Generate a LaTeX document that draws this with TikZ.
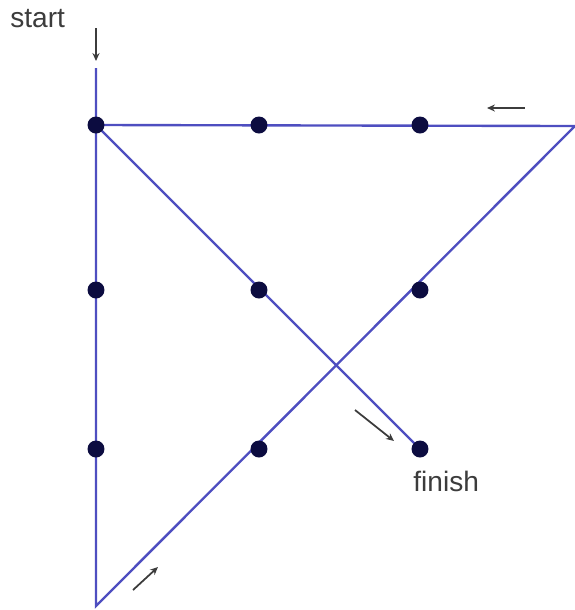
\documentclass[tikz,border=0pt]{standalone}
\usepackage{fontspec}
\setmainfont{Liberation Sans}
\usetikzlibrary{arrows.meta, positioning}

\definecolor{pathblue}{RGB}{78,78,192}
\definecolor{dotnavy}{RGB}{12,12,64}
\definecolor{labelgray}{RGB}{60,60,60}

\begin{document}
\begin{tikzpicture}[
            x=0.02cm, y=-0.02cm,
            dot/.style={circle, fill=dotnavy, inner sep=0pt, minimum size=0.34cm},
            route/.style={draw=pathblue, line width=1.35pt, line join=miter},
            hint/.style={-{Stealth[length=4.5pt, width=4pt]}, draw=labelgray, line width=1pt},
            lbl/.style={text=labelgray, font=\fontsize{16}{19}\selectfont, inner sep=0pt}]

        \useasboundingbox (0,0) rectangle (575,610);

        % grid points
        \foreach \col/\x in {1/96, 2/259, 3/420}
            \foreach \row/\y in {1/125, 2/290, 3/449}
                \coordinate (g\row\col) at (\x,\y);

        % corners of the route
        \coordinate (top)    at (96,68);
        \coordinate (bottom) at (96,606);
        \coordinate (corner) at (575,126);

        \draw[route] (top) -- (bottom) -- (corner) -- (g11) -- (g33);

        % nine dots on top of the route
        \foreach \row in {1,2,3}
            \foreach \col in {1,2,3}
                \node[dot] (d\row\col) at (g\row\col) {};

        % direction hints
        \coordinate (h1a) at (96,28);   \coordinate (h1b) at (96,61);
        \coordinate (h2a) at (525,108); \coordinate (h2b) at (487,108);
        \coordinate (h3a) at (355,410); \coordinate (h3b) at (394,441);
        \coordinate (h4a) at (133,590); \coordinate (h4b) at (158,567);

        \draw[hint] (h1a) -- (h1b);
        \draw[hint] (h2a) -- (h2b);
        \draw[hint] (h3a) -- (h3b);
        \draw[hint] (h4a) -- (h4b);

        \node[lbl, anchor=base west] (st) at (10,27) {start};
        \node[lbl, anchor=base west] (fi) at (413,491) {finish};
    \end{tikzpicture}
\end{document}
